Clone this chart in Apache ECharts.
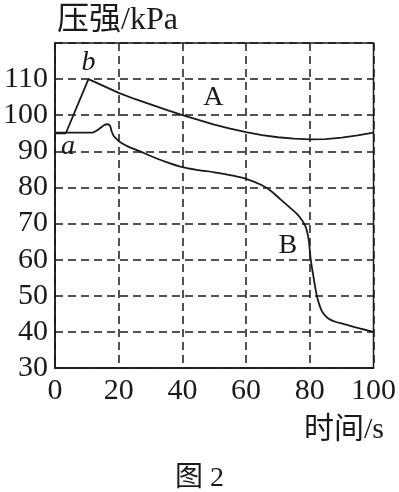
<!DOCTYPE html>
<html><head><meta charset="utf-8">
<script src="https://cdn.jsdelivr.net/npm/echarts@6/dist/echarts.min.js"></script>
<style>html,body{margin:0;padding:0;background:#fff}#c{width:399px;height:492px}</style>
</head><body><div id="c"></div>
<script>
const xTicks = [0, 20, 40, 60, 80, 100];
const yTicks = [30, 40, 50, 60, 70, 80, 90, 100, 110];
const seriesA = [[0,95],[3.4,95],[10.5,110],[15,108.2],[20,106.2],[25,104.5],[30,103],[35,101.5],[40,100],[45,98.7],[50,97.4],[55,96.3],[60,95.3],[65,94.5],[70,93.9],[75,93.5],[80,93.3],[85,93.4],[90,93.8],[95,94.4],[100,95.2]];
const seriesB = [[0,95.2],[11.8,95.2],[13,95.7],[14,96.3],[15.5,97.3],[16.5,97.5],[17.3,97],[17.8,95.5],[18.5,94.2],[19.5,93.3],[20.5,92.5],[23,91.3],[26.7,90],[30,88.7],[35,87],[40,85.6],[45,84.8],[50,84.2],[55,83.4],[60,82.4],[65,80.6],[68,78.9],[70.8,76.7],[73.5,74.6],[75.8,72.8],[77.5,71],[78.6,69.3],[79.2,67.6],[79.7,65.2],[80.3,60],[81.2,55],[82.2,50],[83.2,47],[84.1,45.3],[85.7,43.8],[88,42.8],[91,42.1],[95,41.1],[100,40]];
const yName = '压强/kPa';
const xName = '时间/s';
const caption = '图 2';

const serif = '"Liberation Serif","Noto Sans CJK SC",serif';
const ink = '#1a1a1a';
const chart = echarts.init(document.getElementById('c'));
const lbl = (t, coord, offset, italic) => ({
  coord, symbolSize: 0,
  label: {show: true, formatter: t, offset, fontFamily: serif, fontSize: 28,
          fontStyle: italic ? 'italic' : 'normal', color: ink}
});
chart.setOption({
  animation: false,
  backgroundColor: '#fff',
  grid: {left: 54, top: 43, right: 23, bottom: 124, show: true, borderColor: ink, borderWidth: 1.5, backgroundColor: 'transparent'},
  title: [
    {text: yName, left: 52, top: 0, textStyle: {fontFamily: serif, fontSize: 32, fontWeight: 'normal', color: ink}},
    {text: caption, left: 'center', top: 460, textStyle: {fontFamily: serif, fontSize: 28, fontWeight: 'normal', color: ink}},
    {text: xName, right: 10, top: 410, textStyle: {fontFamily: serif, fontSize: 30, fontWeight: 'normal', color: ink}}
  ],
  xAxis: {
    type: 'value', min: xTicks[0], max: xTicks[xTicks.length-1], interval: 20,
    axisLine: {show: true, lineStyle: {color: ink, width: 1.5}},
    axisTick: {show: false},
    axisLabel: {fontFamily: serif, fontSize: 30, color: ink, margin: 8},
    splitLine: {show: true, lineStyle: {color: ink, type: [8, 5], width: 1.5}}
  },
  yAxis: {
    type: 'value', min: 30, max: 120, interval: 10,
    axisLine: {show: true, lineStyle: {color: ink, width: 1.5}},
    axisTick: {show: false},
    axisLabel: {fontFamily: serif, fontSize: 30, color: ink, margin: 7,
      formatter: v => yTicks.includes(v) ? String(v) : ''},
    splitLine: {show: true, lineStyle: {color: ink, type: [8, 5], width: 1.5}}
  },
  series: [
    {type: 'line', name: 'A', data: seriesA, symbol: 'none', smooth: false,
     lineStyle: {color: ink, width: 1.8},
     markPoint: {symbol: 'circle', data: [lbl('b', [10.5, 110], [0, -16], true), lbl('A', [40, 100], [31, -18], false)]}},
    {type: 'line', name: 'B', data: seriesB, symbol: 'none', smooth: 0.3,
     lineStyle: {color: ink, width: 1.8},
     markPoint: {symbol: 'circle', data: [lbl('a', [0, 95], [13, 13], true), lbl('B', [80, 60], [-22, -14], false)]}}
  ]
});
</script></body></html>
